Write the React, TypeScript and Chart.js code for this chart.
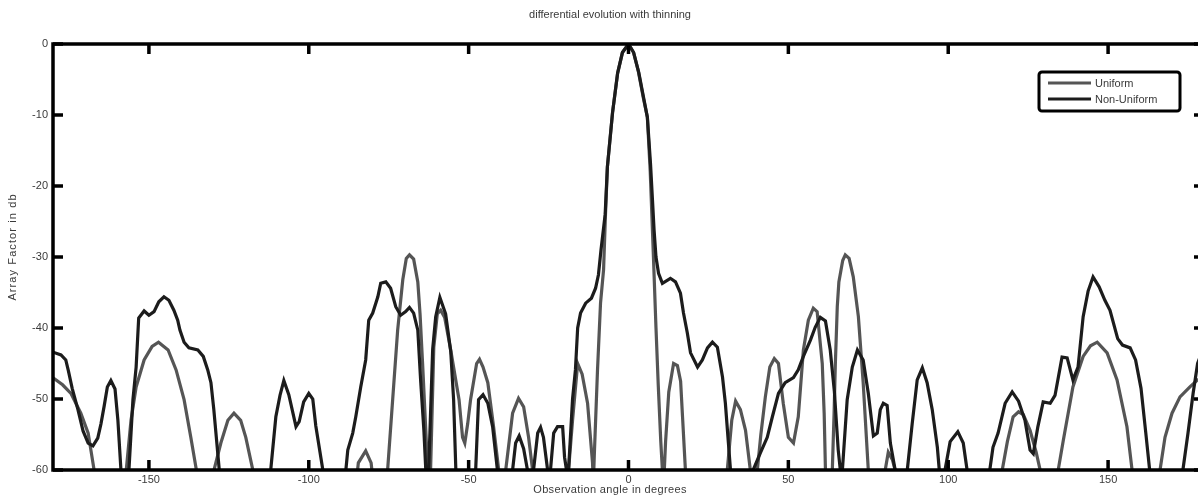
import { useEffect, useRef } from "react";
import { Chart, registerables } from "chart.js";

Chart.register(...registerables);

const titleText = "differential evolution with thinning";
const xAxisLabel = "Observation angle in degrees";
const yAxisLabel = "Array Factor in db";
const seriesNames = ["Uniform", "Non-Uniform"];
const seriesColors = ["#555555", "#1c1c1c"];
const xTicks = [-150, -100, -50, 0, 50, 100, 150];
const yTicks = [0, -10, -20, -30, -40, -50, -60];

// [angle in degrees, array factor in dB]
const uniformPattern: [number, number][] = [
  [-180, -47], [-177, -48], [-174.4, -49.2], [-171.3, -52], [-169, -54.8], [-167.5, -59], [-166.8, -61],
  [-162, -72], [-157.3, -61], [-155.6, -53], [-154, -48.3], [-151.5, -44.5], [-149, -42.6], [-147, -42],
  [-144, -43.1], [-141.5, -45.9], [-139, -50.1], [-136.9, -55.4], [-135.3, -59.6], [-134.8, -61],
  [-132.5, -72], [-130.2, -61], [-127.5, -56.2], [-125.3, -53], [-123.4, -52], [-121.3, -53], [-119.7, -55.4],
  [-117.5, -60], [-117, -62], [-100, -80], [-85.2, -62], [-84.5, -59], [-82.2, -57.3], [-80.5, -59], [-79.8, -62],
  [-77.5, -72], [-75.5, -61], [-73.7, -49.7], [-72.2, -40.3], [-70.6, -33.2], [-69.5, -30.2], [-68.5, -29.7],
  [-67.2, -30.3], [-65.9, -33.5], [-65.2, -38], [-64.4, -45], [-63.4, -54.4], [-62.8, -60], [-62.3, -68],
  [-61.9, -60], [-60.9, -42.7], [-59.8, -38], [-58.75, -37.5], [-57.5, -38.5], [-55.6, -43.1], [-53, -50.1],
  [-51.9, -55.4], [-51.2, -56.2], [-50.3, -53.5], [-49.4, -50.1], [-47.5, -45], [-46.6, -44.4], [-45.5, -45.5],
  [-44, -47.7], [-42.2, -53.9], [-40.6, -60], [-39.5, -70], [-38.4, -60], [-36.25, -52], [-34.4, -49.9],
  [-32.8, -51.1], [-31.25, -55.4], [-30, -60], [-29.5, -62], [-24, -80], [-19.2, -62], [-18.75, -60],
  [-17.5, -53], [-15.9, -45], [-14.5, -46.5], [-12.8, -50.6], [-11.25, -59], [-11, -62], [-10.7, -58],
  [-9.7, -46], [-8.75, -36.5], [-7.8, -31.8], [-7.2, -24], [-6.6, -17.3], [-5, -9.7], [-3.4, -4.1],
  [-1.9, -1.2], [0, 0], [1.6, -1.2], [3.1, -3.9], [4.6, -7.5], [5.9, -10.3], [6.8, -18], [7.3, -24],
  [7.8, -30], [8.6, -40], [9.3, -48], [10.1, -56], [10.6, -60], [11, -62], [11.6, -56], [12.6, -49],
  [14.1, -45], [15.3, -45.3], [16.3, -47.5], [16.9, -52.5], [17.8, -60], [18.3, -62], [24, -80],
  [30.4, -62], [30.9, -60], [32.3, -53], [33.5, -50.3], [35, -51.5], [36.6, -54.4], [38.1, -60],
  [39.2, -68], [40.3, -60], [41.4, -55], [42.8, -49.7], [44.2, -45.5], [45.6, -44.3], [46.9, -45],
  [48.4, -50.6], [50, -55.4], [51.6, -56.2], [53.1, -52.5], [54.7, -43.1], [56.25, -38.9], [57.8, -37.2],
  [59, -37.7], [60.6, -45], [61.2, -52], [61.6, -60], [62.7, -68], [63.75, -60], [64.3, -52], [64.7, -45],
  [65.3, -37], [65.8, -33.5], [67, -30.5], [67.8, -29.7], [69, -30.2], [70.3, -32.8], [71.9, -38.4],
  [73.4, -47.7], [75, -60], [75.5, -62], [78, -72], [79.9, -62], [80.3, -60], [81.25, -57.5], [82.5, -58.5],
  [83.4, -60], [84, -62], [100, -80], [116.4, -62], [116.9, -60], [118.5, -56], [120.3, -52.5], [122, -51.8],
  [123.5, -52.2], [125.6, -54.4], [127.5, -57.5], [128.75, -60], [129.3, -62], [131.5, -72], [133.9, -62],
  [134.4, -60], [136, -55.8], [139, -48.3], [142.2, -44], [144.5, -42.5], [146.6, -42], [149.7, -43.5],
  [152.8, -47.3], [155.9, -53.9], [157.5, -60], [158, -62], [162, -72], [165.8, -62], [166.25, -60],
  [167.8, -55.4], [170, -52], [172.5, -49.7], [175.6, -48.3], [178, -47.3], [180, -47],
];

const nonUniformPattern: [number, number][] = [
  [-180, -43.4], [-177.5, -43.8], [-176, -44.5], [-175.2, -46], [-174, -48.5], [-172.2, -51.5],
  [-170.6, -54.5], [-169, -56.2], [-167.5, -56.6], [-166, -55.5], [-165, -53.5], [-164, -51], [-163, -48.3],
  [-161.9, -47.4], [-160.6, -48.6], [-159.7, -53], [-158.75, -60], [-157.5, -70], [-156.25, -60],
  [-155, -50.1], [-154, -45.5], [-153.2, -38.6], [-151.5, -37.6], [-150, -38.2], [-148.4, -37.7],
  [-146.9, -36.3], [-145.3, -35.6], [-143.75, -36.1], [-142.2, -37.5], [-141, -38.9], [-140.3, -40.3],
  [-139, -42], [-137.5, -42.8], [-134.7, -43.1], [-133, -44], [-131.6, -45.9], [-130.6, -47.7],
  [-129.7, -51.5], [-128, -60], [-127.5, -62], [-120, -80], [-112.4, -62], [-111.9, -60], [-110.3, -52.5],
  [-109, -49.5], [-107.8, -47.4], [-106.25, -49.4], [-104, -53.9], [-103, -53.2], [-101.6, -50.4],
  [-100, -49.2], [-98.75, -50], [-97.8, -53.8], [-95.6, -60], [-95, -62], [-92, -75], [-89, -62],
  [-88.4, -60], [-87.8, -57.2], [-86.25, -54.8], [-85.3, -52.5], [-83.75, -48.3], [-82.2, -44.5],
  [-81.25, -38.9], [-80, -37.9], [-78.4, -35.6], [-77.5, -33.7], [-75.9, -33.5], [-74.4, -34.4],
  [-72.8, -37], [-71.25, -38.2], [-69.7, -37.7], [-68.5, -37.1], [-67.2, -37.9], [-65.9, -40.3],
  [-65, -47.5], [-64, -54.4], [-63.4, -60], [-63, -68], [-62.5, -60], [-61.25, -43], [-60.3, -38.4],
  [-59, -35.7], [-57.2, -38], [-55.6, -43.3], [-54.7, -50.1], [-54, -60], [-53.5, -62], [-51, -75],
  [-48.3, -62], [-47.8, -60], [-46.9, -50.1], [-45.5, -49.4], [-44, -50.6], [-42.5, -53.9], [-41, -60],
  [-38.6, -70], [-36.25, -60], [-35.3, -56.2], [-34.2, -55.2], [-32.8, -57], [-31.6, -60], [-30.6, -66],
  [-29.7, -60], [-28.4, -54.8], [-27.5, -54], [-26.6, -55.4], [-25.3, -60], [-24.8, -64], [-24.4, -60],
  [-23.4, -54.8], [-22.2, -53.9], [-20.6, -53.9], [-20, -58.2], [-19.4, -60], [-19.1, -63], [-18.75, -60],
  [-17.5, -50], [-16.6, -45.9], [-15.9, -40], [-15, -37.9], [-13.4, -36.5], [-11.6, -35.8], [-10.3, -34.4],
  [-9.4, -32.5], [-8.6, -29], [-7.3, -24], [-6.6, -17.3], [-5, -9.7], [-3.4, -4.1], [-1.9, -1.2], [0, 0],
  [1.6, -1.2], [3.2, -4], [5.9, -10.3], [6.9, -17], [7.5, -22], [8, -26.2], [8.6, -30], [9.4, -32.3],
  [10.6, -33.7], [13.1, -33], [14.7, -33.5], [16.25, -35.1], [17.2, -37.9], [18.4, -40.7], [19.4, -43.5],
  [21.6, -45.5], [23.1, -44.5], [24.7, -42.8], [26.25, -42], [27.8, -42.7], [29.4, -46.9], [30.3, -50.6],
  [31.25, -56.2], [31.9, -60], [32.5, -62], [35.5, -75], [38.4, -62], [39, -60], [41.25, -57.6],
  [43.4, -55.4], [45, -52.5], [46.9, -49.2], [49, -47.7], [51.6, -47], [53.1, -45.9], [54.7, -44],
  [56.9, -41.7], [58.4, -39.9], [60, -38.5], [61.6, -39], [63.1, -43.1], [64.4, -49], [65.6, -57.2],
  [66.25, -60], [66.6, -66], [66.9, -60], [68.4, -50.1], [70, -45.5], [71.6, -43.1], [73.4, -44.5],
  [75, -49.2], [76.6, -55.2], [77.8, -54.8], [78.75, -51.5], [79.7, -50.6], [80.9, -50.9], [81.9, -56.2],
  [83.4, -60], [85.3, -70], [87.2, -60], [88.75, -53.4], [90.3, -47.3], [91.9, -45.6], [93.4, -47.7],
  [95, -51.5], [96.6, -56.8], [97.2, -60], [98.1, -66], [99, -60], [100.6, -56], [103, -54.6],
  [104.7, -56.2], [105.9, -60], [106.5, -62], [109.5, -75], [112.5, -62], [113, -60], [114, -56.8],
  [115.6, -54.8], [117.8, -50.6], [120, -49], [122, -50.3], [124, -53], [125.6, -57.2], [126.6, -57.7],
  [128, -54], [129.7, -50.4], [131.9, -50.6], [133.4, -49.5], [135.6, -44.1], [137.2, -44.2], [139, -47.3],
  [140.6, -45.5], [142.2, -38.4], [143.75, -34.8], [145.3, -32.8], [147.2, -34.2], [149, -36.1],
  [150.6, -37.5], [153, -41.5], [154.5, -42.4], [156.9, -42.8], [158.6, -44.5], [160.3, -48.5],
  [161.8, -54.8], [163, -60], [163.5, -62], [168, -75], [172.9, -62], [173.4, -60], [175, -54.8],
  [176.6, -49.2], [178, -45], [179, -43.8], [180, -43.4],
];

const FONT = '11px "Liberation Sans", Arial, Helvetica, sans-serif';
const TEXT_COLOR = "#3a3a3a";

const decorPlugin = {
  id: "matlabDecor",
  afterDatasetsDraw(chart: any) {
    const { ctx, chartArea } = chart;
    const { left, right, top, bottom } = chartArea;
    const xs = chart.scales.x;
    const ys = chart.scales.y;
    ctx.save();
    ctx.strokeStyle = "#000";
    ctx.lineWidth = 3.5;
    ctx.lineCap = "butt";
    const tl = 10;
    ctx.beginPath();
    xTicks.forEach((v) => {
      const px = xs.getPixelForValue(v);
      ctx.moveTo(px, bottom);
      ctx.lineTo(px, bottom - tl);
      ctx.moveTo(px, top);
      ctx.lineTo(px, top + tl);
    });
    yTicks.forEach((v) => {
      const py = ys.getPixelForValue(v);
      ctx.moveTo(left, py);
      ctx.lineTo(left + tl, py);
      ctx.moveTo(right, py);
      ctx.lineTo(right - tl, py);
    });
    ctx.stroke();
    ctx.lineJoin = "miter";
    ctx.strokeRect(left, top, right - left, bottom - top);
    ctx.restore();
  },
  afterDraw(chart: any) {
    const { ctx } = chart;
    ctx.save();
    ctx.font = FONT;
    ctx.fillStyle = TEXT_COLOR;
    ctx.textAlign = "center";
    ctx.textBaseline = "middle";
    ctx.fillText(titleText, 610, 15);
    (ctx as any).letterSpacing = "0.35px";
    ctx.fillText(xAxisLabel, 610, 490);
    ctx.save();
    (ctx as any).letterSpacing = "1.1px";
    ctx.translate(13, 247);
    ctx.rotate(-Math.PI / 2);
    ctx.fillText(yAxisLabel, 0, 0);
    ctx.restore();
    (ctx as any).letterSpacing = "0px";

    // legend
    const bx = 1039, by = 72, bw = 141, bh = 39;
    ctx.fillStyle = "#fff";
    ctx.strokeStyle = "#000";
    ctx.lineWidth = 3;
    ctx.beginPath();
    if ((ctx as any).roundRect) (ctx as any).roundRect(bx, by, bw, bh, 3);
    else ctx.rect(bx, by, bw, bh);
    ctx.fill();
    ctx.stroke();
    seriesNames.forEach((name, i) => {
      const y = 83 + i * 16;
      ctx.strokeStyle = seriesColors[i];
      ctx.lineWidth = 3;
      ctx.beginPath();
      ctx.moveTo(1048, y);
      ctx.lineTo(1091, y);
      ctx.stroke();
      ctx.fillStyle = TEXT_COLOR;
      ctx.textAlign = "left";
      ctx.textBaseline = "middle";
      ctx.fillText(name, 1095, y + 1);
    });
    ctx.restore();
  },
};

export default function App() {
  const canvasRef = useRef<HTMLCanvasElement | null>(null);

  useEffect(() => {
    if (!canvasRef.current) return;
    const chart = new Chart(canvasRef.current, {
      type: "line",
      data: {
        datasets: [
          {
            label: seriesNames[0],
            data: uniformPattern.map(([x, y]) => ({ x, y })),
            borderColor: seriesColors[0],
            borderWidth: 3.2,
            pointRadius: 0,
            tension: 0,
            fill: false,
            order: 2,
          },
          {
            label: seriesNames[1],
            data: nonUniformPattern.map(([x, y]) => ({ x, y })),
            borderColor: seriesColors[1],
            borderWidth: 3.2,
            pointRadius: 0,
            tension: 0,
            fill: false,
            order: 1,
          },
        ],
      },
      options: {
        animation: false,
        responsive: false,
        devicePixelRatio: 1,
        layout: { padding: { top: 44, right: 8, left: 0, bottom: 0 } },
        plugins: {
          legend: { display: false },
          title: { display: false },
          tooltip: { enabled: false },
        },
        scales: {
          x: {
            type: "linear",
            min: -180,
            max: 180,
            afterBuildTicks: (s: any) => {
              s.ticks = xTicks.map((v) => ({ value: v }));
            },
            afterFit: (s: any) => {
              s.height = 29;
            },
            grid: { display: false, drawTicks: false },
            border: { display: false },
            ticks: {
              autoSkip: false,
              maxRotation: 0,
              padding: 3,
              color: TEXT_COLOR,
              font: { family: '"Liberation Sans", Arial, sans-serif', size: 11 },
            },
          },
          y: {
            type: "linear",
            min: -60,
            max: 0,
            afterBuildTicks: (s: any) => {
              s.ticks = yTicks.map((v) => ({ value: v }));
            },
            afterFit: (s: any) => {
              s.width = 53;
            },
            grid: { display: false, drawTicks: false },
            border: { display: false },
            ticks: {
              padding: 5,
              color: TEXT_COLOR,
              font: { family: '"Liberation Sans", Arial, sans-serif', size: 11 },
            },
          },
        },
      },
      plugins: [decorPlugin],
    });
    return () => chart.destroy();
  }, []);

  return (
    <div
      style={{
        position: "fixed",
        left: 0,
        top: 0,
        width: 1198,
        height: 499,
        overflow: "hidden",
        background: "#fff",
      }}
    >
      <canvas
        ref={canvasRef}
        width={1212}
        height={499}
        style={{ display: "block", width: 1212, height: 499 }}
      />
    </div>
  );
}
